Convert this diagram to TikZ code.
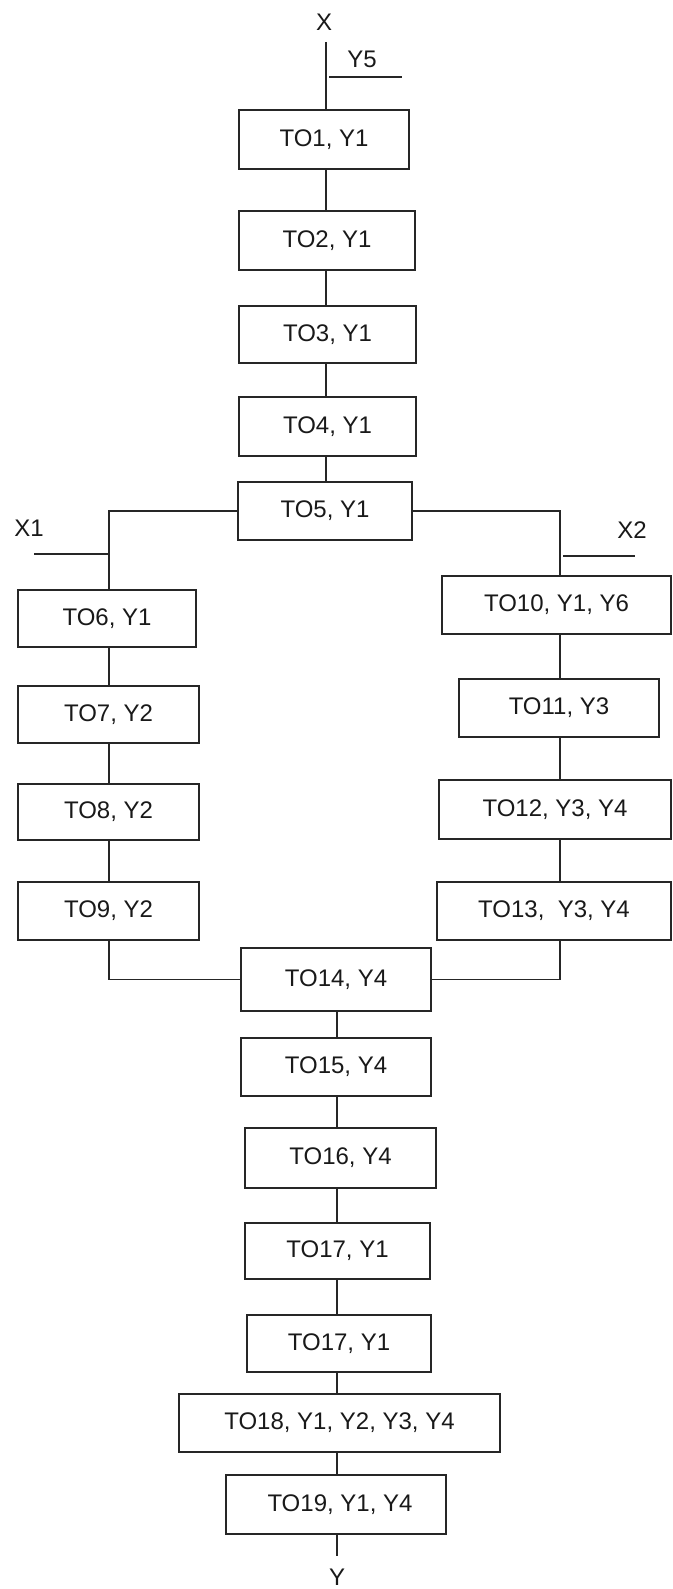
\documentclass[tikz,border=0pt]{standalone}
\usepackage{fontspec}
\setmainfont{Liberation Sans}
\begin{document}
\begin{tikzpicture}[x=1pt,y=-1pt,
  every node/.style={font=\fontsize{24}{28}\selectfont, text=black!90},
  box/.style={draw=black!85, line width=1.8pt, inner sep=0pt, rectangle},
  wire/.style={draw=black!85, line width=1.6pt},
  lbl/.style={inner sep=0pt}]
\useasboundingbox (0,0) rectangle (672,1589);

% column axes
\coordinate (mx) at (326,0);
\coordinate (lx) at (109,0);
\coordinate (rx) at (560,0);
\coordinate (bx) at (337,0);

% upper column
\node[box, minimum width=170, minimum height=59] (t1) at (324,139.5) {TO1, Y1};
\node[box, minimum width=176, minimum height=59] (t2) at (327,240.5) {TO2, Y1};
\node[box, minimum width=177, minimum height=57] (t3) at (327.5,334.5) {TO3, Y1};
\node[box, minimum width=177, minimum height=59] (t4) at (327.5,426.5) {TO4, Y1};
\node[box, minimum width=174, minimum height=58] (t5) at (325,511) {TO5, Y1};

% left branch
\node[box, minimum width=178, minimum height=57] (t6) at (107,618.5) {TO6, Y1};
\node[box, minimum width=181, minimum height=57] (t7) at (108.5,714.5) {TO7, Y2};
\node[box, minimum width=181, minimum height=56] (t8) at (108.5,812) {TO8, Y2};
\node[box, minimum width=181, minimum height=58] (t9) at (108.5,911) {TO9, Y2};

% right branch
\node[box, minimum width=229, minimum height=58] (t10) at (556.5,605) {TO10, Y1, Y6};
\node[box, minimum width=200, minimum height=58] (t11) at (559,708) {TO11, Y3};
\node[box, minimum width=232, minimum height=59] (t12) at (555,809.5) {TO12, Y3, Y4};
\node[box, minimum width=234, minimum height=58] (t13) at (554,911) {TO13,\ \ Y3, Y4};

% lower column
\node[box, minimum width=190, minimum height=63] (t14) at (336,979.5) {TO14, Y4};
\node[box, minimum width=190, minimum height=58] (t15) at (336,1067) {TO15, Y4};
\node[box, minimum width=191, minimum height=60] (t16) at (340.5,1158) {TO16, Y4};
\node[box, minimum width=185, minimum height=56] (t17) at (337.5,1251) {TO17, Y1};
\node[box, minimum width=184, minimum height=57] (t17b) at (339,1343.5) {TO17, Y1};
\node[box, minimum width=321, minimum height=58] (t18) at (339.5,1423) {TO18, Y1, Y2, Y3, Y4};
\node[box, minimum width=220, minimum height=59] (t19) at (336,1504.5) {\hspace*{8pt}TO19, Y1, Y4};

% inputs and output labels
\node[lbl] (x) at (324,22) {X};
\node[lbl] (y5) at (362,59) {Y5};
\node[lbl] (x1) at (29,528) {X1};
\node[lbl] (x2) at (632,530) {X2};
\node[lbl] (y) at (337,1577) {Y};

\coordinate (xin) at (326,42);
\coordinate (y5a) at (329,77);
\coordinate (y5b) at (402,77);
\coordinate (x1a) at (34,554);
\coordinate (x1b) at (109,554);
\coordinate (x2a) at (563,556);
\coordinate (x2b) at (635,556);
\coordinate (yout) at (337,1556);

% upper chain
\draw[wire] (xin) -- (t1.north -| mx);
\draw[wire] (y5a) -- (y5b);
\draw[wire] (t1.south -| mx) -- (t2.north -| mx);
\draw[wire] (t2.south -| mx) -- (t3.north -| mx);
\draw[wire] (t3.south -| mx) -- (t4.north -| mx);
\draw[wire] (t4.south -| mx) -- (t5.north -| mx);

% split into two branches
\draw[wire] (t5.west) -- (t5.west -| lx) -- (t6.north -| lx);
\draw[wire] (t5.east) -- (t5.east -| rx) -- (t10.north -| rx);
\draw[wire] (x1a) -- (x1b);
\draw[wire] (x2a) -- (x2b);

% left chain
\draw[wire] (t6.south -| lx) -- (t7.north -| lx);
\draw[wire] (t7.south -| lx) -- (t8.north -| lx);
\draw[wire] (t8.south -| lx) -- (t9.north -| lx);

% right chain
\draw[wire] (t10.south -| rx) -- (t11.north -| rx);
\draw[wire] (t11.south -| rx) -- (t12.north -| rx);
\draw[wire] (t12.south -| rx) -- (t13.north -| rx);

% merge
\draw[wire] (t9.south -| lx) -- (t14.west -| lx) -- (t14.west);
\draw[wire] (t13.south -| rx) -- (t14.east -| rx) -- (t14.east);

% lower chain
\draw[wire] (t14.south -| bx) -- (t15.north -| bx);
\draw[wire] (t15.south -| bx) -- (t16.north -| bx);
\draw[wire] (t16.south -| bx) -- (t17.north -| bx);
\draw[wire] (t17.south -| bx) -- (t17b.north -| bx);
\draw[wire] (t17b.south -| bx) -- (t18.north -| bx);
\draw[wire] (t18.south -| bx) -- (t19.north -| bx);
\draw[wire] (t19.south -| bx) -- (yout);
\end{tikzpicture}
\end{document}
